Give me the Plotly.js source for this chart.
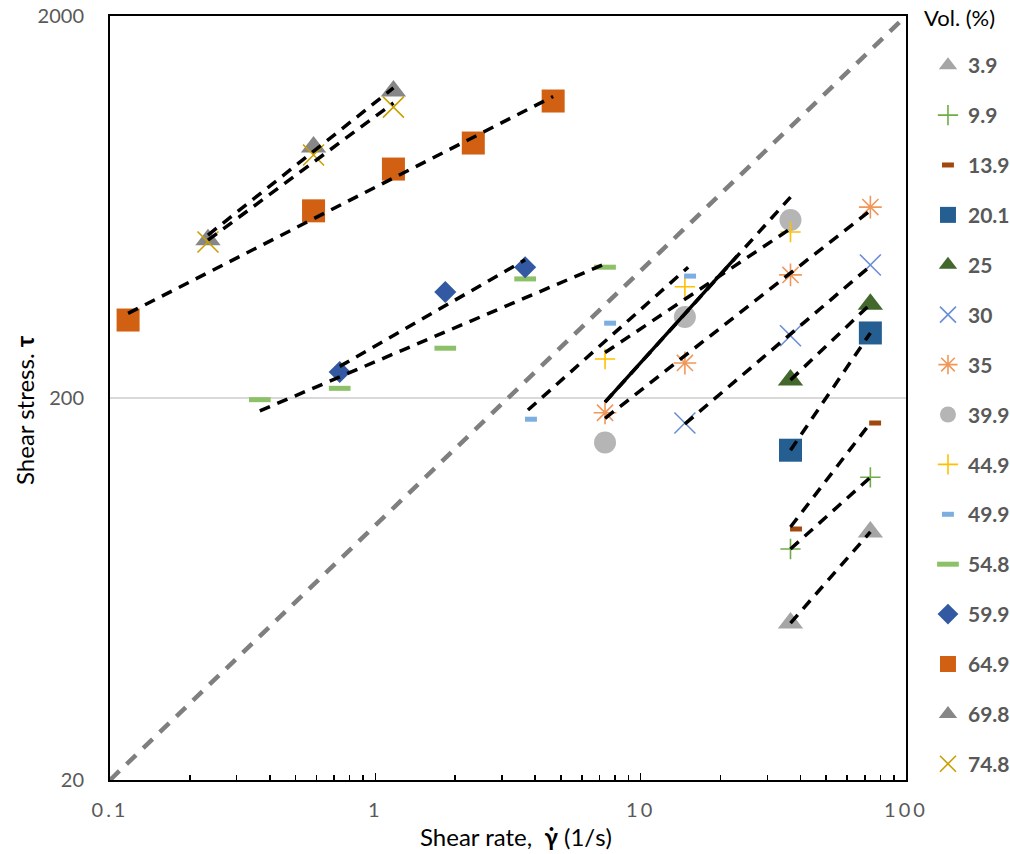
<!DOCTYPE html>
<html>
<head>
<meta charset="utf-8">
<script src="https://cdn.plot.ly/plotly-3.0.1.min.js"></script>
<style>
  body { margin: 0; background: #fff; }
  .xtick text { letter-spacing: 3px; }
</style>
</head>
<body>
<div id="chart" style="width:1010px;height:854px;"></div>
<script>
// ---- data ----
const volumes = ['3.9','9.9','13.9','20.1','25','30','35','39.9','44.9','49.9','54.8','59.9','64.9','69.8','74.8'];

const x_3_9  = [36.7, 73.4];               const y_3_9  = [51.5, 89.2];
const x_9_9  = [36.7, 73.4];               const y_9_9  = [80.5, 124];
const x_13_9 = [38.5, 76.5];               const y_13_9 = [90.8, 172];
const x_20_1 = [36.7, 73.4];               const y_20_1 = [146, 296];
const x_25   = [36.7, 73.4];               const y_25   = [223, 352];
const x_30   = [14.68, 36.7, 73.4];        const y_30   = [172, 291, 446];
const x_35   = [7.34, 14.68, 36.7, 73.4];  const y_35   = [183, 247, 420, 632];
const x_39_9 = [7.34, 14.68, 36.7];        const y_39_9 = [153, 326, 585];
const x_44_9 = [7.34, 14.68, 36.7];        const y_44_9 = [253, 391, 544];
const x_49_9 = [3.86, 7.67, 15.35];        const y_49_9 = [176, 314, 417];
const x_54_8 = [0.367, 0.734, 1.835, 3.67, 7.34]; const y_54_8 = [198, 212, 270, 410, 440];
const x_59_9 = [0.734, 1.835, 3.67];       const y_59_9 = [234, 379, 440];
const x_64_9 = [0.117, 0.585, 1.17, 2.34, 4.68]; const y_64_9 = [320, 618, 795, 930, 1198];
const x_69_8 = [0.234, 0.585, 1.17];       const y_69_8 = [519, 908, 1273];
const x_74_8 = [0.234, 0.585, 1.17];       const y_74_8 = [512, 865, 1155];

// trend lines (power fits) : start / end, same order as volumes
const fitX0 = [36.7, 36.7, 36.7, 36.7, 36.7, 14.68, 7.34, 7.34, 7.34, 3.76, 0.367, 0.734, 0.117, 0.234, 0.234];
const fitX1 = [73.4, 73.4, 73.4, 73.4, 73.4, 73.4, 73.4, 36.7, 36.7, 15.1, 7.34, 3.67, 4.68, 1.17, 1.17];
const fitY0 = [51.5, 80.5, 91.9, 146, 223, 171, 177, 195, 263, 186, 185, 242, 333, 534, 518];
const fitY1 = [89.2, 124, 172, 296, 352, 443, 619, 671, 555, 440, 449, 460, 1231, 1296, 1184];

// solid part of the 39.9 line
const solidX = [7.34, 23.1];
const solidY = [195, 471];

// reference line
const refX = [0.1, 100];
const refY = [20, 2000];

const tickX = [0.1, 1, 10, 100];
const tickXText = ['0.1', '1', '10', '100'];
const tickY = [20, 200, 2000];
const tickYText = ['20', '200', '2000'];

const legendTitle = 'Vol. (%)';
const xTitle = 'Shear rate,  <b>γ̇</b> (1/s)';
const yTitle = 'Shear stress. <b>τ</b>';

// ---- styles ----
const seriesX = [x_3_9, x_9_9, x_13_9, x_20_1, x_25, x_30, x_35, x_39_9, x_44_9, x_49_9, x_54_8, x_59_9, x_64_9, x_69_8, x_74_8];
const seriesY = [y_3_9, y_9_9, y_13_9, y_20_1, y_25, y_30, y_35, y_39_9, y_44_9, y_49_9, y_54_8, y_59_9, y_64_9, y_69_8, y_74_8];
const styles = [
  {symbol: 'triangle-up', color: '#A5A5A5', size: 22},
  {symbol: 'cross-thin-open', color: '#70AD47', size: 14.5, lw: 1.6},
  {symbol: 'line-ew-open', color: '#A0480E', size: 8.5, lw: 5},
  {symbol: 'square', color: '#255E91', size: 23},
  {symbol: 'triangle-up', color: '#43682B', size: 22},
  {symbol: 'x-thin-open', color: '#6A8ED6', size: 21, lw: 1.6},
  {symbol: 'asterisk-open', color: '#F2975A', size: 19, lw: 1.6},
  {symbol: 'circle', color: '#B5B5B5', size: 22},
  {symbol: 'cross-thin-open', color: '#FFC000', size: 14.5, lw: 1.6},
  {symbol: 'line-ew-open', color: '#7DAEE0', size: 8.5, lw: 5},
  {symbol: 'line-ew-open', color: '#8CC168', size: 15.5, lw: 5},
  {symbol: 'diamond', color: '#3259A2', size: 17},
  {symbol: 'square', color: '#D26012', size: 23},
  {symbol: 'triangle-up', color: '#878787', size: 22},
  {symbol: 'x-thin-open', color: '#C8A000', size: 21, lw: 1.6}
];

const FONT = 'Lato, "Open Sans", sans-serif';
const traces = [];

// reference dashed gray line
traces.push({
  x: refX, y: refY, mode: 'lines', showlegend: false, hoverinfo: 'skip',
  line: {color: '#7F7F7F', width: 4.5, dash: '13px,10px'}
});

// markers
volumes.forEach((v, i) => {
  const st = styles[i];
  traces.push({
    x: seriesX[i], y: seriesY[i], name: v, legendgroup: v,
    mode: 'markers', type: 'scatter',
    marker: {symbol: st.symbol, size: st.size, color: st.color,
             line: {color: st.color, width: st.lw || 0}}
  });
});

// trend lines on top
volumes.forEach((v, i) => {
  traces.push({
    x: [fitX0[i], fitX1[i]], y: [fitY0[i], fitY1[i]], legendgroup: v,
    mode: 'lines', showlegend: false, hoverinfo: 'skip',
    line: {color: '#000', width: 3.5, dash: '11px,8px'}
  });
});
traces.push({
  x: solidX, y: solidY, legendgroup: '39.9', mode: 'lines', showlegend: false, hoverinfo: 'skip',
  line: {color: '#000', width: 3.5}
});

const layout = {
  width: 1010, height: 854,
  margin: {l: 110, r: 104, t: 16, b: 74, autoexpand: false},
  paper_bgcolor: '#fff', plot_bgcolor: '#fff',
  font: {family: FONT, color: '#595959'},
  showlegend: true,
  xaxis: {
    type: 'log', range: [-1, 2], automargin: false,
    tickmode: 'array', tickvals: tickX, ticktext: tickXText,
    ticks: 'inside', ticklen: 7, tickwidth: 1.5, tickcolor: '#000',
    minor: {dtick: 'D1', ticks: 'inside', ticklen: 5, tickwidth: 1.5, tickcolor: '#000', showgrid: false},
    showgrid: false, zeroline: false,
    showline: true, mirror: true, linecolor: '#000', linewidth: 2,
    tickfont: {family: FONT, size: 20, color: '#595959'},
    ticklabelstandoff: 11
  },
  yaxis: {
    type: 'log', range: [Math.log10(20), Math.log10(2000)], automargin: false,
    tickmode: 'array', tickvals: tickY, ticktext: tickYText,
    ticks: '', showgrid: true, gridcolor: '#D9D9D9', gridwidth: 2, zeroline: false,
    showline: true, mirror: true, linecolor: '#000', linewidth: 2,
    tickfont: {family: FONT, size: 20, color: '#595959'},
    ticklabelstandoff: 20
  },
  legend: {
    x: 1.0276, xanchor: 'left', y: 0.962, yanchor: 'top',
    maxheight: 1,
    traceorder: 'grouped', tracegroupgap: 19.6,
    font: {family: FONT, size: 21, color: '#595959', weight: 'bold'},
    bgcolor: 'rgba(0,0,0,0)', itemclick: false, itemdoubleclick: false
  },
  annotations: [
    {text: legendTitle, xref: 'paper', yref: 'paper', x: 1.0678, y: 0.9974,
     xanchor: 'center', yanchor: 'middle', showarrow: false,
     font: {family: FONT, size: 22, color: '#000'}},
    {text: xTitle, xref: 'paper', yref: 'paper', x: 0.510, y: -0.0733,
     xanchor: 'center', yanchor: 'middle', showarrow: false,
     font: {family: FONT, size: 24, color: '#000'}},
    {text: yTitle, xref: 'paper', yref: 'paper', x: -0.1068, y: 0.4843, textangle: -90,
     xanchor: 'center', yanchor: 'middle', showarrow: false,
     font: {family: FONT, size: 24, color: '#000'}}
  ]
};

Plotly.newPlot('chart', traces, layout, {displayModeBar: false, staticPlot: true});
</script>
</body>
</html>
